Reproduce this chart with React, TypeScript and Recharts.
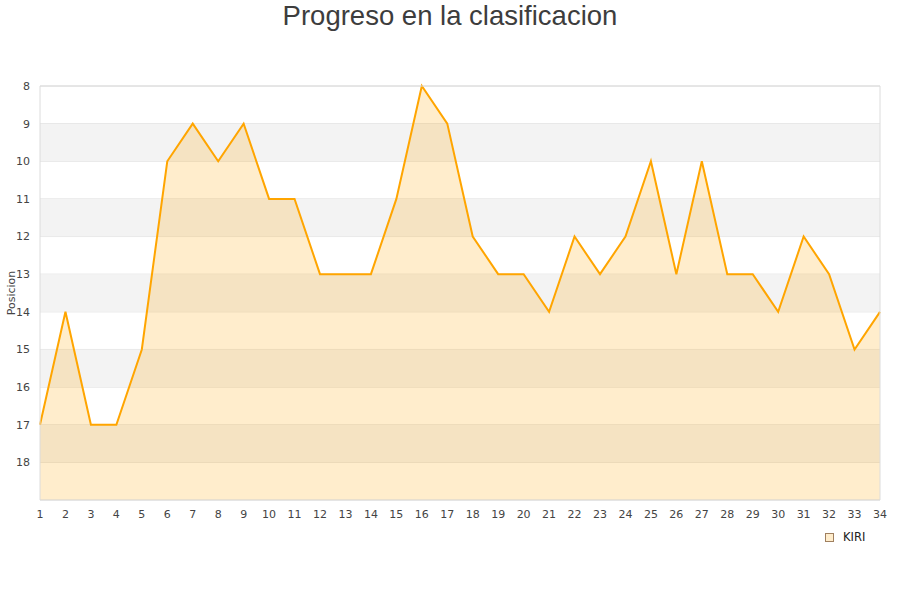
import React from "react";
import {
  AreaChart,
  Area,
  XAxis,
  YAxis,
  CartesianGrid,
  ReferenceArea,
  Label,
} from "recharts";

const jornadas = [
  1, 2, 3, 4, 5, 6, 7, 8, 9, 10, 11, 12, 13, 14, 15, 16, 17, 18, 19, 20, 21,
  22, 23, 24, 25, 26, 27, 28, 29, 30, 31, 32, 33, 34,
];
const posiciones = [
  17, 14, 17, 17, 15, 10, 9, 10, 9, 11, 11, 13, 13, 13, 11, 8, 9, 12, 13, 13,
  14, 12, 13, 12, 10, 13, 10, 13, 13, 14, 12, 13, 15, 14,
];
const yTicks = [8, 9, 10, 11, 12, 13, 14, 15, 16, 17, 18];
const bandas = [
  [9, 10],
  [11, 12],
  [13, 14],
  [15, 16],
  [17, 18],
];

const data = jornadas.map((j, i) => ({ jornada: j, KIRI: posiciones[i] }));

const tickStyle = { fontSize: 11, fill: "#444", fontFamily: "DejaVu Sans" };

// etiqueta vertical del eje Y, centrada en el área de trazado
function EtiquetaY(props: any) {
  const vb = props.viewBox || {};
  const cx = 11;
  const cy = (vb.y || 0) + (vb.height || 0) / 2;
  return (
    <text
      x={cx}
      y={cy}
      transform={`rotate(-90 ${cx} ${cy})`}
      textAnchor="middle"
      dominantBaseline="central"
      fontSize={11}
      fill="#444"
      fontFamily="DejaVu Sans"
    >
      Posicion
    </text>
  );
}

export default function App() {
  return (
    <div
      style={{
        position: "absolute",
        left: 0,
        top: 0,
        width: 900,
        height: 600,
        background: "#fff",
      }}
    >
      <div
        style={{
          position: "absolute",
          top: 0,
          left: 0,
          width: 900,
          textAlign: "center",
          fontFamily: "Liberation Sans",
          fontSize: 27.5,
          color: "#3d3d3d",
          lineHeight: "32px",
        }}
      >
        Progreso en la clasificacion
      </div>
      <AreaChart
        width={900}
        height={600}
        data={data}
        margin={{ top: 86, right: 20, left: 0, bottom: 70 }}
      >
        {bandas.map(([a, b]) => (
          <ReferenceArea
            key={a}
            y1={a}
            y2={b}
            fill="#f3f3f3"
            fillOpacity={1}
            stroke="none"
          />
        ))}
        <CartesianGrid vertical={false} stroke="#e0e0e0" />
        <XAxis
          dataKey="jornada"
          type="number"
          domain={[1, 34]}
          ticks={jornadas}
          interval={0}
          height={30}
          tickLine={false}
          axisLine={false}
          tick={tickStyle}
          tickMargin={4}
        />
        <YAxis
          reversed
          type="number"
          domain={[8, 19]}
          ticks={yTicks}
          interval={0}
          width={40}
          tickLine={false}
          axisLine={false}
          tick={tickStyle}
          tickMargin={4}
        >
          <Label content={EtiquetaY} />
        </YAxis>
        <Area
          type="linear"
          dataKey="KIRI"
          stroke="#ffa500"
          strokeWidth={2}
          fill="#ffa500"
          fillOpacity={0.2}
          baseValue={19}
          dot={false}
          activeDot={false}
          isAnimationActive={false}
        />
        <ReferenceArea
          x1={1}
          x2={34}
          y1={8}
          y2={19}
          fill="none"
          stroke="#dcdcdc"
        />
      </AreaChart>
      <div
        style={{
          position: "absolute",
          top: 530,
          left: 825,
          display: "flex",
          alignItems: "center",
          fontFamily: "DejaVu Sans",
          fontSize: 11.5,
          color: "#222",
          lineHeight: "14px",
        }}
      >
        <span
          style={{
            display: "inline-block",
            width: 7,
            height: 7,
            background: "#ffedcc",
            border: "1px solid #a08060",
            marginRight: 9,
          }}
        />
        KIRI
      </div>
    </div>
  );
}
